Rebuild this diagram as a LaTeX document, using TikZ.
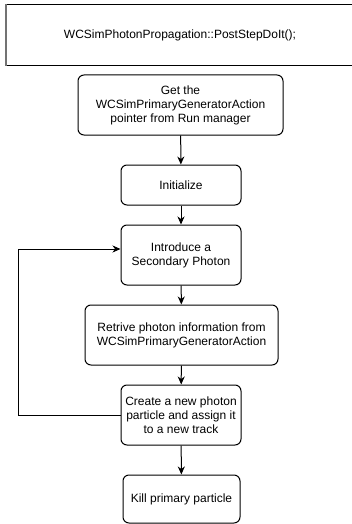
\documentclass[tikz,border=0pt]{standalone}
\usepackage{fontspec}
\setmainfont{Liberation Sans}
\usetikzlibrary{arrows.meta}
\tikzset{
  box/.style={draw=black, line width=1pt, rounded corners=6pt, align=center,
    inner sep=0pt, font=\fontsize{12}{14}\selectfont},
  topbox/.style={draw=black, line width=1pt, align=center, inner sep=0pt,
    font=\fontsize{12}{14}\selectfont},
  flow/.style={draw=black, line width=1pt, -{Stealth[length=8pt,width=7pt,inset=2.5pt]}}
}
\begin{document}
\begin{tikzpicture}[x=1pt,y=-1pt]
\useasboundingbox (0,0) rectangle (352,524);
\node[topbox, minimum width=347pt, minimum height=61pt] (top) at (180,35.5) {WCSimPhotonPropagation::PostStepDoIt();};
\draw[black!55, line width=1.6pt] (top.north west) -- (top.south west);
\node[box, minimum width=205pt, minimum height=60pt] (get) at (180.5,105) {Get the\\WCSimPrimaryGeneratorAction\\pointer from Run manager};
\node[box, minimum width=120pt, minimum height=40pt] (init) at (181,185) {Initialize};
\node[box, minimum width=120pt, minimum height=60pt] (intro) at (181,255) {Introduce a\\Secondary Photon};
\node[box, minimum width=193pt, minimum height=60pt] (ret) at (181.5,335) {Retrive photon information from\\WCSimPrimaryGeneratorAction};
\node[box, minimum width=120pt, minimum height=60pt] (create) at (181,415) {Create a new photon\\particle and assign it\\to a new track};
\node[box, minimum width=117pt, minimum height=48pt] (kill) at (181.5,499) {Kill primary particle};
\draw[flow] (get) -- (init);
\draw[flow] (init) -- (intro);
\draw[flow] (intro) -- (ret);
\draw[flow] (ret) -- (create);
\draw[flow] (create) -- (kill);
\coordinate (lp) at (18,249);
\draw[flow] (create.west) -| (lp) -- (intro.west |- lp);
\end{tikzpicture}
\end{document}
